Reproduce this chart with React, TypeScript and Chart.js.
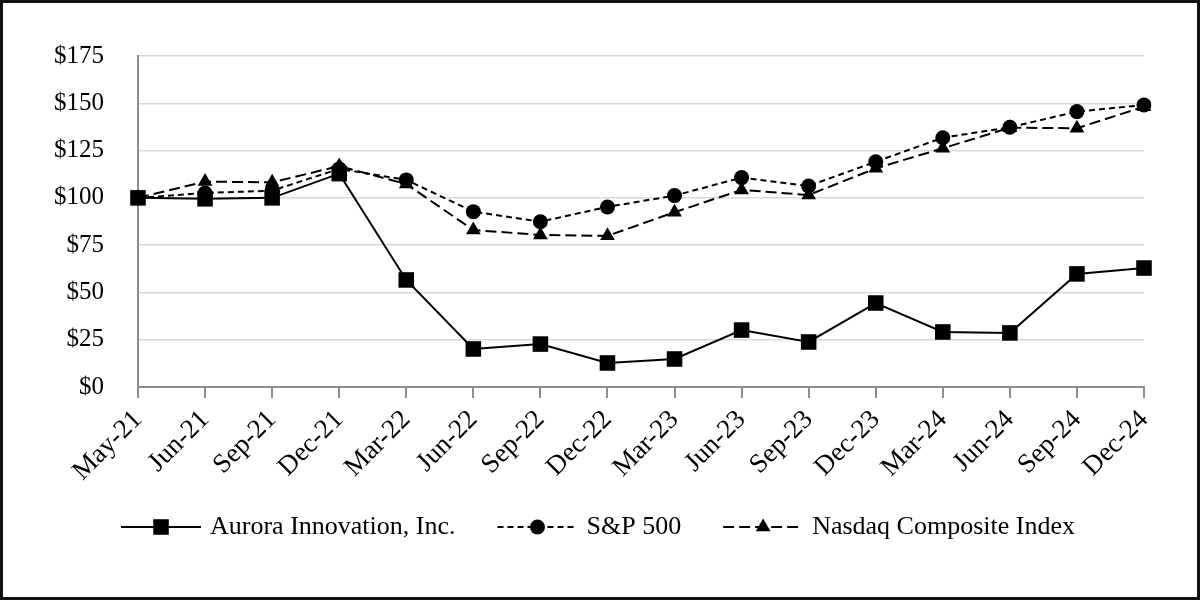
import React, { useEffect, useRef } from "react";
import { Chart, registerables } from "chart.js";

Chart.register(...registerables);

const categories = [
  "May-21", "Jun-21", "Sep-21", "Dec-21", "Mar-22", "Jun-22", "Sep-22", "Dec-22",
  "Mar-23", "Jun-23", "Sep-23", "Dec-23", "Mar-24", "Jun-24", "Sep-24", "Dec-24",
];
const auroraValues = [100, 99.5, 100, 112.8, 56.6, 20.1, 22.7, 12.7, 14.8, 30.1, 23.8, 44.4, 29.1, 28.6, 59.8, 62.9];
const spValues = [100, 102.6, 103.8, 115.3, 109.5, 92.7, 87.4, 95.2, 101.2, 110.7, 106.3, 119.1, 131.8, 137.3, 145.6, 149.1];
const nasdaqValues = [100, 108.6, 108.2, 116.8, 107.3, 83.0, 80.4, 79.9, 92.4, 104.2, 101.5, 115.6, 126.2, 137.1, 136.8, 148.2];
const seriesLabels = ["Aurora Innovation, Inc.", "S&P 500", "Nasdaq Composite Index"];
const yTicks = [0, 25, 50, 75, 100, 125, 150, 175];

const FONT = '"Liberation Serif", "Times New Roman", serif';

const legendPlugin = {
  id: "customLegend",
  afterDraw(chart: any) {
    const ctx = chart.ctx as CanvasRenderingContext2D;
    ctx.save();
    ctx.font = `26px ${FONT}`;
    const lineW = 80;
    const gapText = 9;
    const gapItem = 42;
    const items = chart.data.datasets.map((ds: any) => ({ ds, w: ctx.measureText(ds.label).width }));
    let total = 0;
    items.forEach((it: any, i: number) => {
      total += lineW + gapText + it.w + (i > 0 ? gapItem : 0);
    });
    let x = (chart.width - total) / 2 - 2;
    const y = 524;
    items.forEach((it: any) => {
      const ds = it.ds;
      ctx.strokeStyle = "#000";
      ctx.fillStyle = "#000";
      ctx.lineWidth = 2;
      ctx.setLineDash(ds.borderDash || []);
      ctx.beginPath();
      ctx.moveTo(x, y);
      ctx.lineTo(x + lineW, y);
      ctx.stroke();
      ctx.setLineDash([]);
      const cx = x + lineW / 2;
      const r = ds.pointRadius;
      ctx.beginPath();
      if (ds.pointStyle === "rect") {
        const s = Math.SQRT1_2 * r;
        ctx.rect(cx - s, y - s, 2 * s, 2 * s);
      } else if (ds.pointStyle === "circle") {
        ctx.arc(cx, y, r, 0, Math.PI * 2);
      } else {
        const a = (2 * Math.PI) / 3;
        ctx.moveTo(cx, y - r);
        ctx.lineTo(cx + Math.sin(a) * r, y - Math.cos(a) * r);
        ctx.lineTo(cx + Math.sin(2 * a) * r, y - Math.cos(2 * a) * r);
        ctx.closePath();
      }
      ctx.fill();
      ctx.fillStyle = "#000";
      ctx.textBaseline = "middle";
      ctx.textAlign = "left";
      ctx.fillText(ds.label, x + lineW + gapText, y);
      x += lineW + gapText + it.w + gapItem;
    });
    ctx.restore();
  },
};

export default function App() {
  const canvasRef = useRef<HTMLCanvasElement | null>(null);

  useEffect(() => {
    if (!canvasRef.current) return;
    const chart = new Chart(canvasRef.current, {
      type: "line",
      data: {
        labels: categories,
        datasets: [
          {
            label: seriesLabels[0],
            data: auroraValues,
            borderColor: "#000",
            backgroundColor: "#000",
            borderWidth: 2,
            pointStyle: "rect",
            pointRadius: 11,
            pointBackgroundColor: "#000",
            pointBorderColor: "#000",
            pointBorderWidth: 0,
            tension: 0,
          },
          {
            label: seriesLabels[1],
            data: spValues,
            borderColor: "#000",
            backgroundColor: "#000",
            borderWidth: 2,
            borderDash: [6, 4],
            pointStyle: "circle",
            pointRadius: 7.5,
            pointBackgroundColor: "#000",
            pointBorderColor: "#000",
            pointBorderWidth: 0,
            tension: 0,
          },
          {
            label: seriesLabels[2],
            data: nasdaqValues,
            borderColor: "#000",
            backgroundColor: "#000",
            borderWidth: 2,
            borderDash: [11, 5],
            pointStyle: "triangle",
            pointRadius: 8.5,
            pointBackgroundColor: "#000",
            pointBorderColor: "#000",
            pointBorderWidth: 0,
            tension: 0,
          },
        ],
      } as any,
      options: {
        responsive: false,
        animation: false,
        devicePixelRatio: 1,
        layout: { padding: { left: 0, right: 53, top: 53, bottom: 110 } },
        plugins: {
          legend: { display: false },
          tooltip: { enabled: false },
        },
        scales: {
          x: {
            offset: false,
            grid: {
              drawOnChartArea: false,
              drawTicks: true,
              tickLength: 11,
              tickColor: "#8c8c8c",
              lineWidth: 2,
            },
            border: { display: true, color: "#8c8c8c", width: 2 },
            ticks: {
              color: "#000",
              font: { family: FONT, size: 27 },
              minRotation: 45,
              maxRotation: 45,
              autoSkip: false,
              padding: 6,
            },
            afterFit: (scale: any) => {
              scale.height = 100;
            },
          },
          y: {
            min: 0,
            max: 175,
            afterBuildTicks: (scale: any) => {
              scale.ticks = yTicks.map((v) => ({ value: v }));
            },
            grid: { color: "#d9d9d9", lineWidth: 1.5, drawTicks: false },
            border: { display: true, color: "#8c8c8c", width: 2 },
            ticks: {
              color: "#000",
              font: { family: FONT, size: 25 },
              padding: 34,
              callback: (v: any) => "$" + v,
            },
            afterFit: (scale: any) => {
              scale.width = 135;
            },
          },
        },
      } as any,
      plugins: [legendPlugin],
    });
    return () => chart.destroy();
  }, []);

  return (
    <div
      style={{
        position: "absolute",
        left: 0,
        top: 0,
        width: 1200,
        height: 600,
        boxSizing: "border-box",
        border: "3px solid #111",
        background: "#fff",
      }}
    >
      <canvas ref={canvasRef} width={1194} height={594} style={{ display: "block", width: 1194, height: 594 }} />
    </div>
  );
}
